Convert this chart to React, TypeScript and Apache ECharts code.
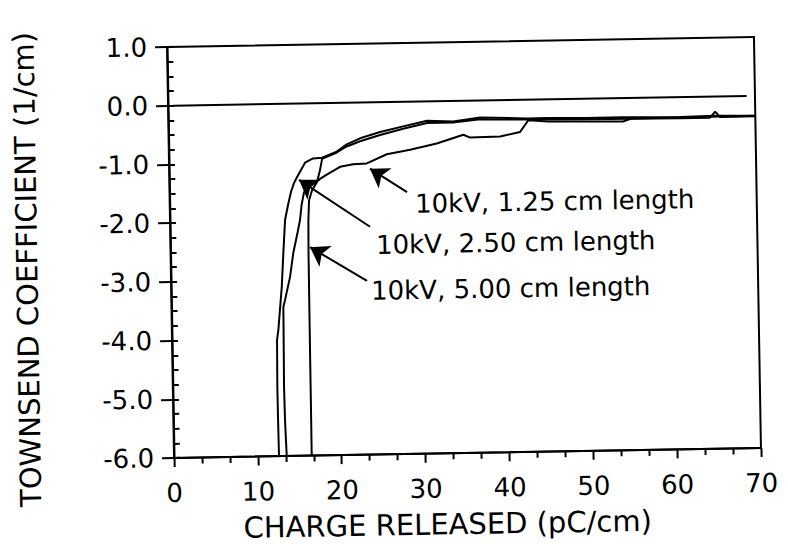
import React, { useEffect, useRef } from "react";
import * as echarts from "echarts";

// Townsend coefficient (1/cm) against charge released (pC/cm), three gap lengths at 10 kV
const xLen125 = [13.44, 13.31, 13.26, 13.32, 13.34, 13.56, 14.2, 14.64, 15.12, 15.51, 15.72, 16.04, 16.77, 17.74, 18.78, 20.39, 21.94, 23.58, 25.98, 28.77, 31.96, 35.15, 35.95, 39.53, 41.92, 42.93, 45.28, 54.22, 55.3, 70.0];
const yLen125 = [-6.0, -5.39, -4.82, -3.85, -3.46, -3.34, -2.95, -2.54, -2.24, -1.98, -1.73, -1.51, -1.41, -1.31, -1.22, -1.09, -1.05, -1.04, -0.89, -0.82, -0.72, -0.58, -0.63, -0.62, -0.55, -0.35, -0.38, -0.4, -0.35, -0.34];

const xLen250 = [12.52, 12.48, 12.46, 12.52, 12.7, 13.19, 13.45, 13.72, 14.11, 14.49, 14.87, 15.24, 16.22, 17.18, 18.26, 20.02, 21.23, 22.83, 25.23, 27.98, 30.85, 33.95, 37.18, 42.78, 45.29, 49.7, 54.23, 61.03, 65.21, 70.0];
const yLen250 = [-6.0, -5.38, -4.82, -4.02, -3.85, -3.12, -2.54, -1.98, -1.72, -1.5, -1.35, -1.25, -1.01, -0.94, -0.93, -0.83, -0.71, -0.61, -0.51, -0.42, -0.33, -0.35, -0.29, -0.32, -0.32, -0.33, -0.33, -0.34, -0.33, -0.34];

const xLen500 = [16.42, 16.43, 16.43, 16.45, 16.5, 16.62, 17.0, 17.61, 17.99, 18.26, 19.94, 21.14, 22.83, 25.22, 27.98, 30.84, 33.95, 37.17, 42.78, 49.7, 61.03, 64.6, 65.22, 65.8, 70.0];
const yLen500 = [-6.0, -5.05, -4.25, -2.55, -1.99, -1.65, -1.48, -1.34, -1.14, -0.95, -0.85, -0.75, -0.66, -0.56, -0.46, -0.37, -0.37, -0.32, -0.34, -0.35, -0.36, -0.36, -0.26, -0.35, -0.35];

// zero reference line
const zeroX = [0.6, 69.0];
const zeroY = [0, 0];

// annotations: label anchor (left, middle), arrow tail and arrow tip
const labelText = ["10kV, 1.25 cm length", "10kV, 2.50 cm length", "10kV, 5.00 cm length"];
const labelX = [29.25, 24.52, 23.83];
const labelY = [-1.74, -2.43, -3.21];
const arrowTailX = [28.32, 23.84, 23.37];
const arrowTailY = [-1.54, -2.12, -3.04];
const arrowTipX = [23.95, 15.47, 16.65];
const arrowTipY = [-1.13, -1.3, -2.45];

const xTitle = "CHARGE RELEASED (pC/cm)";
const yTitle = "TOWNSEND COEFFICIENT (1/cm)";

const FONT = '"DejaVu Sans", sans-serif';
const INK = "#000";

const pairs = (xs: number[], ys: number[]) => xs.map((x, i) => [x, ys[i]]);

export default function App() {
  const ref = useRef<HTMLDivElement>(null);

  useEffect(() => {
    if (!ref.current) return;
    const chart = echarts.init(ref.current, null, { renderer: "svg" });

    const curve = (name: string, data: number[][]) => ({
      name,
      type: "line",
      data,
      symbol: "none",
      showSymbol: false,
      silent: true,
      z: 3,
      lineStyle: { color: INK, width: 2 },
    });

    chart.setOption({
      animation: false,
      backgroundColor: "#fff",
      grid: {
        left: 170.5,
        top: 42,
        width: 587,
        height: 411,
        show: true,
        borderColor: INK,
        borderWidth: 2,
        backgroundColor: "transparent",
      },
      xAxis: {
        type: "value",
        min: 0,
        max: 70,
        interval: 10,
        axisLine: { onZero: false, lineStyle: { color: INK, width: 2 } },
        axisTick: { length: 9, lineStyle: { color: INK, width: 2 } },
        minorTick: { show: true, splitNumber: 3, length: 6, lineStyle: { color: INK, width: 2 } },
        splitLine: { show: false },
        axisLabel: { margin: 22, color: INK, fontSize: 26, fontFamily: FONT },
      },
      yAxis: [
        {
          type: "value",
          min: -6,
          max: 1,
          interval: 1,
          axisLine: { onZero: false, lineStyle: { color: INK, width: 2 } },
          axisTick: { length: 12, lineStyle: { color: INK, width: 2 } },
          splitLine: { show: false },
          axisLabel: {
            margin: 20,
            color: INK,
            fontSize: 26,
            fontFamily: FONT,
            formatter: (v: number) => v.toFixed(1),
          },
        },
        {
          type: "value",
          min: -6,
          max: 1,
          interval: 0.25,
          position: "left",
          axisLine: { show: false },
          axisTick: { inside: true, length: 6, lineStyle: { color: INK, width: 2 } },
          axisLabel: { show: false },
          splitLine: { show: false },
        },
      ],
      graphic: [
        {
          type: "text",
          x: 27,
          y: 262,
          rotation: Math.PI / 2,
          silent: true,
          style: {
            text: yTitle,
            fill: INK,
            fontSize: 29,
            fontFamily: FONT,
            align: "center",
            verticalAlign: "middle",
            textAlign: "center",
            textVerticalAlign: "middle",
          },
        },
        {
          type: "text",
          x: 443,
          y: 524,
          silent: true,
          style: {
            text: xTitle,
            fill: INK,
            fontSize: 29,
            fontFamily: FONT,
            align: "center",
            verticalAlign: "middle",
            textAlign: "center",
            textVerticalAlign: "middle",
          },
        },
      ],
      series: [
        curve("10kV, 1.25 cm length", pairs(xLen125, yLen125)),
        curve("10kV, 2.50 cm length", pairs(xLen250, yLen250)),
        curve("10kV, 5.00 cm length", pairs(xLen500, yLen500)),
        {
          name: "zero",
          type: "line",
          data: pairs(zeroX, zeroY),
          symbol: "none",
          silent: true,
          lineStyle: { color: INK, width: 2 },
        },
        {
          name: "labels",
          type: "scatter",
          symbolSize: 0,
          silent: true,
          itemStyle: { opacity: 1, color: INK },
          data: labelText.map((t, i) => ({ name: t, value: [labelX[i], labelY[i]] })),
          label: {
            show: true,
            position: "right",
            distance: 0,
            formatter: "{b}",
            color: INK,
            opacity: 1,
            fontSize: 26,
            fontFamily: FONT,
          },
          markLine: {
            silent: true,
            symbol: ["none", "arrow"],
            symbolSize: 18,
            label: { show: false },
            lineStyle: { color: INK, width: 2, type: "solid", opacity: 1 },
            data: arrowTailX.map((x, i) => [
              { coord: [x, arrowTailY[i]] },
              { coord: [arrowTipX[i], arrowTipY[i]] },
            ]),
          },
        },
      ],
    });

    return () => chart.dispose();
  }, []);

  return (
    <div
      ref={ref}
      style={{
        position: "absolute",
        left: 0,
        top: 0,
        width: 788,
        height: 544,
        background: "#fff",
        transform: "rotate(-0.976deg)",
        transformOrigin: "464px 247.5px",
      }}
    />
  );
}
